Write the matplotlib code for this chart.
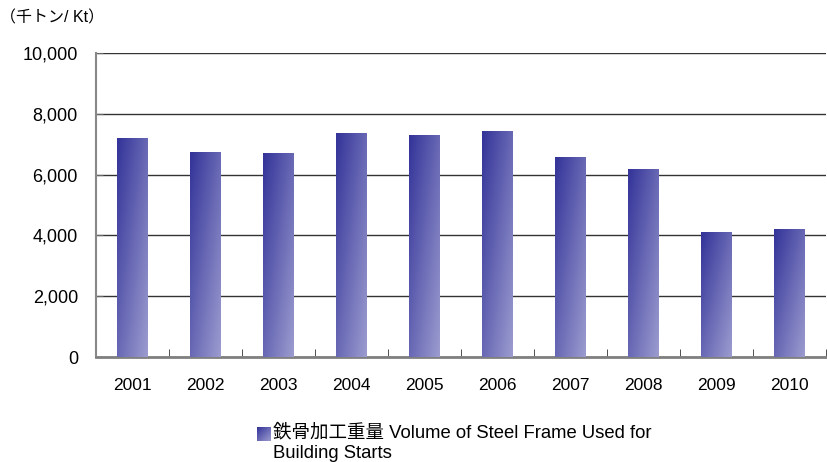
import matplotlib
matplotlib.use('Agg')
import matplotlib.pyplot as plt
import numpy as np
from matplotlib.colors import LinearSegmentedColormap
from matplotlib.ticker import FixedLocator, FuncFormatter

plt.rcParams['font.family'] = ['Liberation Sans', 'Noto Sans CJK JP', 'DejaVu Sans']

years = ['2001', '2002', '2003', '2004', '2005', '2006', '2007', '2008', '2009', '2010']
volume = [7200, 6730, 6700, 7360, 7300, 7430, 6550, 6180, 4110, 4210]
unit_label = '（千トン/ Kt）'
legend_label = '鉄骨加工重量 Volume of Steel Frame Used for\nBuilding Starts'

dark = '#333399'
light = '#9c9cd0'
cmap = LinearSegmentedColormap.from_list('steel', [dark, light])

fig = plt.figure(figsize=(8.27, 4.62), dpi=100)
ax = fig.add_axes([96 / 827, 105 / 462, 730 / 827, 304 / 462])

xpos = np.arange(len(years))
bars = ax.bar(xpos, volume, width=0.42, color='none', edgecolor='none', zorder=3)

# diagonal gradient per bar: dark top-left -> light bottom-right
u, v = np.meshgrid(np.linspace(0, 1, 60), np.linspace(0, 1, 200))
grad = (u + v) / 2.0
for b in bars:
    x0 = b.get_x()
    ax.imshow(grad, cmap=cmap, extent=(x0, x0 + b.get_width(), 0, b.get_height()),
              origin='upper', aspect='auto', zorder=3, interpolation='bilinear')

ax.set_xlim(-0.5, len(years) - 0.5)
ax.set_ylim(0, 10000)
ax.set_yticks(range(0, 10001, 2000))
ax.yaxis.set_major_formatter(FuncFormatter(lambda y, p: f'{int(y):,}'))
ax.set_xticks(xpos)
ax.set_xticklabels(years)
ax.xaxis.set_minor_locator(FixedLocator(np.arange(-0.5, len(years), 1.0)))

ax.grid(axis='y', color='#333333', linewidth=1.0, zorder=1)
ax.set_axisbelow(True)
for s in ['top', 'right']:
    ax.spines[s].set_visible(False)
ax.spines['left'].set_color('#888888')
ax.spines['left'].set_linewidth(1.5)
ax.spines['bottom'].set_color('#808080')
ax.spines['bottom'].set_linewidth(2)

ax.tick_params(axis='y', direction='in', length=5, color='#666666', pad=13, labelsize=13)
ax.tick_params(axis='x', which='major', length=0, pad=15, labelsize=12.5)
ax.tick_params(axis='x', which='minor', direction='in', length=6, color='#333333')

fig.text(0 / 827, 1 - 18 / 462, unit_label, fontsize=11.5, va='center', ha='left')

# legend: gradient square + label
lax = fig.add_axes([257 / 827, 1 - 441 / 462, 14 / 827, 14 / 462])
lax.imshow(grad, cmap=cmap, aspect='auto', interpolation='bilinear')
lax.axis('off')
fig.text(273 / 827, 1 - 424 / 462, legend_label, fontsize=13.3, va='top', ha='left',
         linespacing=1.22)

fig.savefig('out.png', dpi=100)
